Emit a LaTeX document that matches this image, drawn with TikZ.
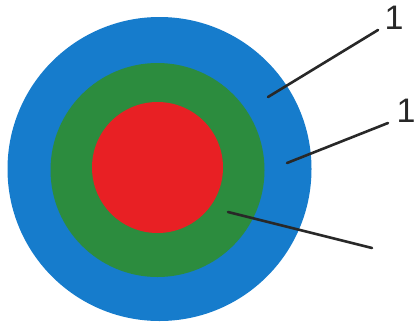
\documentclass[tikz,border=0pt]{standalone}
\usepackage{fontspec}
\setmainfont{Liberation Sans}
\definecolor{ringblue}{RGB}{22,124,204}
\definecolor{ringgreen}{RGB}{44,140,62}
\definecolor{corered}{RGB}{232,32,36}
\definecolor{inkline}{RGB}{40,40,40}
\tikzset{
  leader/.style={draw=inkline, line width=2.6pt, line cap=round},
  numlabel/.style={font=\fontsize{34}{34}\selectfont, text=inkline, inner sep=0pt}
}
\begin{document}
\begin{tikzpicture}[x=1pt,y=-1pt]
\useasboundingbox (0,0) rectangle (419,324);
\fill[ringblue] (159.5,169) circle (152);
\fill[ringgreen] (157.5,170) circle (107);
\fill[corered] (157.5,167.5) circle (65.5);
\coordinate (s1) at (268,97);
\coordinate (e1) at (378,30);
\coordinate (s2) at (287,163);
\coordinate (e2) at (388,123);
\coordinate (s3) at (228,212);
\coordinate (e3) at (372,248);
\node[numlabel] (l1) at (394,18) {1};
\node[numlabel] (l2) at (406,111) {1};
\draw[leader] (s1) -- (e1);
\draw[leader] (s2) -- (e2);
\draw[leader] (s3) -- (e3);
\end{tikzpicture}
\end{document}
